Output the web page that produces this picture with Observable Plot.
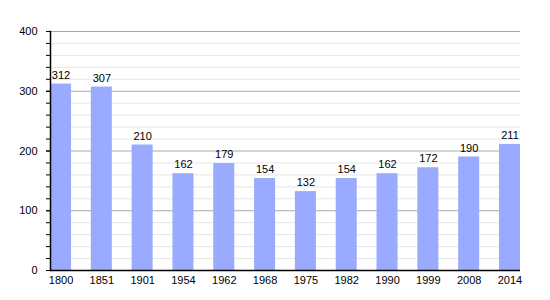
<!DOCTYPE html>
<html>
<head>
<meta charset="utf-8">
<script src="https://cdn.jsdelivr.net/npm/d3@7"></script>
<script src="https://cdn.jsdelivr.net/npm/@observablehq/plot@0.6"></script>
<style>
  body { margin: 0; background: #fff; }
  svg { font-family: "Liberation Sans", Arial, sans-serif; }
</style>
</head>
<body>
<div id="chart"></div>
<script>
const years = ["1800","1851","1901","1954","1962","1968","1975","1982","1990","1999","2008","2014"];
const population = [312,307,210,162,179,154,132,154,162,172,190,211];
const majorTicks = [0,100,200,300,400];
const minorTicks = [20,40,60,80,120,140,160,180,220,240,260,280,320,340,360,380];
const allTicks = [0,20,40,60,80,100,120,140,160,180,200,220,240,260,280,300,320,340,360,380,400];

const data = years.map((y, i) => ({year: y, pop: population[i]}));

const chart = Plot.plot({
  width: 550,
  height: 300,
  marginLeft: 50,
  marginRight: 30,
  marginTop: 31,
  marginBottom: 30,
  style: {fontSize: "11px", fontFamily: "'Liberation Sans', Arial, sans-serif", color: "#000", background: "#fff"},
  x: {domain: years, paddingInner: 0.485, paddingOuter: 0, round: false, label: null},
  y: {domain: [0, 400], label: null},
  marks: [
    Plot.ruleY(minorTicks, {stroke: "#e6e6e6", strokeWidth: 1}),
    Plot.ruleY(majorTicks.filter(d => d > 0), {stroke: "#aaaaaa", strokeWidth: 1}),
    Plot.barY(data, {x: "year", y: "pop", fill: "#99aaff"}),
    Plot.text(data, {x: "year", y: "pop", text: d => String(d.pop), dy: -9, fill: "#000", fontSize: 11}),
    Plot.axisY({ticks: allTicks, tickSize: 4, tickFormat: () => "", stroke: "#000"}),
    Plot.axisY({ticks: majorTicks, tickSize: 4, tickPadding: 9, tickFormat: d => String(d), fontSize: 11}),
    Plot.axisX({tickSize: 0, tickPadding: 6, fontSize: 11}),
    Plot.ruleY([0], {stroke: "#000", strokeWidth: 1.5}),
    Plot.frame({anchor: "left", stroke: "#000", strokeWidth: 1.5})
  ]
});
document.getElementById("chart").appendChild(chart);
</script>
</body>
</html>
